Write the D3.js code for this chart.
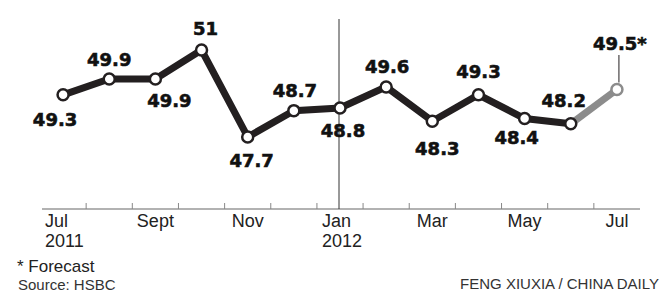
<!DOCTYPE html>
<html>
<head>
<meta charset="utf-8">
<script src="https://cdn.jsdelivr.net/npm/d3@7"></script>
<style>
  body { margin: 0; background: #fff; }
  svg { display: block; }
  .val { font-family: "DejaVu Sans", sans-serif; font-weight: bold; font-size: 18px; fill: #111; stroke: #111; stroke-width: 0.6px; }
  .month { font-family: "Liberation Sans", Arial, sans-serif; font-size: 18px; fill: #222; }
  .note { font-family: "Liberation Sans", Arial, sans-serif; fill: #333; }
</style>
</head>
<body>
<svg id="chart" width="660" height="294"></svg>
<script>
// Data
var months = ["Jul 2011", "Aug 2011", "Sep 2011", "Oct 2011", "Nov 2011", "Dec 2011",
              "Jan 2012", "Feb 2012", "Mar 2012", "Apr 2012", "May 2012", "Jun 2012", "Jul 2012"];
var pmi = [49.3, 49.9, 49.9, 51, 47.7, 48.7, 48.8, 49.6, 48.3, 49.3, 48.4, 48.2, 49.5];
var valueLabels = ["49.3", "49.9", "49.9", "51", "47.7", "48.7", "48.8", "49.6", "48.3", "49.3", "48.4", "48.2", "49.5*"];
var forecastIndex = 12;
var tickLabels = [["Jul", "2011"], null, ["Sept"], null, ["Nov"], null, ["Jan", "2012"], null, ["Mar"], null, ["May"], null, ["Jul"]];

// Layout: label offsets from each point (dx, dy to baseline, anchor)
var labelPlace = [[-8, 31], [0, -13], [14, 28], [4, -15], [4, 30], [1, -14],
                  [3, 29], [1, -14], [5, 34], [0, -17], [-8, 25], [-7, -17], [-24, -40, "start"]];

var svg = d3.select("#chart");
var axisY = 209;

// Scales
var x = d3.scaleBand().domain(months).range([40, 640]).paddingInner(0);
var y = d3.scaleLinear().domain([47.7, 51]).range([137, 50]);
function cx(i) { return x(months[i]) + x.bandwidth() / 2; }

var dark = "#231f20", grey = "#8c8c8c";

// Axis line and ticks at month boundaries
svg.append("line")
   .attr("x1", 42).attr("x2", 640)
   .attr("y1", axisY).attr("y2", axisY)
   .attr("stroke", "#999").attr("stroke-width", 1.5);
svg.selectAll("tickMarks")
   .data(months.slice(1))
   .enter()
   .append("line")
   .attr("x1", function(d) { return x(d); })
   .attr("x2", function(d) { return x(d); })
   .attr("y1", axisY - 6).attr("y2", axisY)
   .attr("stroke", "#888").attr("stroke-width", 1);

// Year divider at Jan 2012
svg.append("line")
   .attr("x1", cx(6) - 1).attr("x2", cx(6) - 1)
   .attr("y1", 19).attr("y2", axisY)
   .attr("stroke", "#333").attr("stroke-width", 1);

// Month labels
tickLabels.forEach(function(lines, i) {
  if (!lines) return;
  var t = svg.append("text").attr("class", "month");
  var left = lines.length > 1 ? cx(i) - 18 : cx(i);
  t.attr("text-anchor", lines.length > 1 ? "start" : "middle");
  lines.forEach(function(s, j) {
    t.append("tspan").attr("x", left).attr("y", 227 + j * 20).text(s);
  });
});

// Lines
var line = d3.line().x(function(d) { return cx(d.i); }).y(function(d) { return y(d.v); });
var pts = pmi.map(function(v, i) { return { v: v, i: i }; });
svg.append("path")
   .datum(pts.slice(forecastIndex - 1))
   .attr("d", line)
   .attr("fill", "none").attr("stroke", grey).attr("stroke-width", 7);
svg.append("path")
   .datum(pts.slice(0, forecastIndex))
   .attr("d", line)
   .attr("fill", "none").attr("stroke", dark).attr("stroke-width", 7)
   .attr("stroke-linejoin", "miter");

// Leader for forecast label
svg.append("line")
   .attr("x1", cx(forecastIndex) + 2).attr("x2", cx(forecastIndex) + 2)
   .attr("y1", 55).attr("y2", y(pmi[forecastIndex]) - 7)
   .attr("stroke", dark).attr("stroke-width", 1);

// Circles
svg.selectAll("dots")
   .data(pts)
   .enter()
   .append("circle")
   .attr("cx", function(d) { return cx(d.i); })
   .attr("cy", function(d) { return y(d.v); })
   .attr("r", 5.5)
   .attr("fill", "#fff")
   .attr("stroke", function(d) { return d.i === forecastIndex ? grey : dark; })
   .attr("stroke-width", 2.5);

// Value labels
svg.selectAll("vals")
   .data(pts)
   .enter()
   .append("text")
   .attr("class", "val")
   .attr("x", function(d) { return cx(d.i) + labelPlace[d.i][0]; })
   .attr("y", function(d) { return y(d.v) + labelPlace[d.i][1]; })
   .attr("text-anchor", function(d) { return labelPlace[d.i][2] || "middle"; })
   .text(function(d) { return valueLabels[d.i]; });

// Footer
svg.append("text").attr("class", "note").attr("x", 17).attr("y", 272)
   .style("font-size", "17px").style("fill", "#222").text("* Forecast");
svg.append("text").attr("class", "note").attr("x", 18).attr("y", 290)
   .style("font-size", "15px").text("Source: HSBC");
svg.append("text").attr("class", "note").attr("x", 659).attr("y", 289)
   .attr("text-anchor", "end")
   .style("font-size", "15px").text("FENG XIUXIA / CHINA DAILY");
</script>
</body>
</html>
